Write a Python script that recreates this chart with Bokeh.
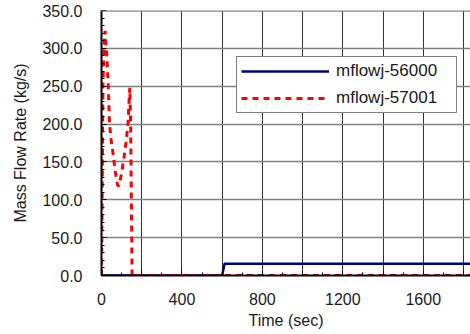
from bokeh.plotting import figure
from bokeh.models import (Range1d, FixedTicker, SingleIntervalTicker, NumeralTickFormatter,
                          Legend, LegendItem, Span)
from bokeh.embed import file_html
from bokeh.resources import INLINE

# ---- data ----
t_56000 = [0, 600, 612, 2000]
v_56000 = [0, 0, 15.5, 15.5]

t_57001 = [0, 3, 7, 12, 18, 22, 28, 33, 37, 40, 47, 58, 67, 79, 86, 100, 112, 122, 132,
           138, 141, 145, 152, 2000]
v_57001 = [0, 100, 250, 300, 323, 305, 282, 255, 225, 200, 181, 160, 140, 120, 118, 135,
           156, 176, 200, 235, 248, 200, 0, 0]

x_ticks = [0, 200, 400, 600, 800, 1000, 1200, 1400, 1600, 1800]
x_labels = ["0", "", "400", "", "800", "", "1200", "", "1600", ""]
series_names = ["mflowj-56000", "mflowj-57001"]

FONT = "Liberation Sans"

p = figure(width=470, height=334, output_backend="svg", toolbar_location=None,
           x_range=Range1d(0, 1835), y_range=Range1d(0, 350),
           min_border_left=101, min_border_right=0, min_border_top=10, min_border_bottom=59)
p.outline_line_color = None
p.background_fill_color = "white"
p.border_fill_color = "white"

# axes
xa = p.xaxis[0]
xa.ticker = FixedTicker(ticks=x_ticks, minor_ticks=list(range(0, 1900, 100)))
xa.major_label_overrides = {t: l for t, l in zip(x_ticks, x_labels)}
xa.axis_label = "Time (sec)"

ya = p.yaxis[0]
ya.ticker = SingleIntervalTicker(interval=50, num_minor_ticks=5)
ya.formatter = NumeralTickFormatter(format="0.0")
ya.axis_label = "Mass Flow Rate (kg/s)"

for ax in (xa, ya):
    ax.axis_line_color = "black"
    ax.axis_line_width = 2
    ax.major_tick_in = 5
    ax.major_tick_out = 0
    ax.minor_tick_in = 3
    ax.minor_tick_out = 0
    ax.major_tick_line_color = "black"
    ax.minor_tick_line_color = "black"
    ax.major_label_text_font = FONT
    ax.major_label_text_font_size = "16px"
    ax.major_label_text_color = "#1a1a1a"
    ax.axis_label_text_font = FONT
    ax.axis_label_text_font_size = "16px"
    ax.axis_label_text_font_style = "normal"
    ax.axis_label_text_color = "#1a1a1a"

xa.major_label_standoff = 17
xa.axis_label_standoff = 4
ya.major_label_standoff = 19
ya.axis_label_standoff = 10

# grids
p.xgrid.grid_line_color = "#333333"
p.xgrid.grid_line_width = 1
p.ygrid.grid_line_color = "#808080"
p.ygrid.grid_line_width = 1.5
p.add_layout(Span(location=350, dimension="width", line_color="#888888", line_width=2.5))

# series
r1 = p.line(t_56000, v_56000, line_color="#000080", line_width=2.5)
r2 = p.line(t_57001, v_57001, line_color="#ff0000", line_width=3, line_dash="6 5")

legend = Legend(items=[LegendItem(label=series_names[0], renderers=[r1]),
                       LegendItem(label=series_names[1], renderers=[r2])],
                location=(135, 162))
legend.border_line_color = "black"
legend.border_line_width = 1
legend.background_fill_color = "white"
legend.background_fill_alpha = 1
legend.label_text_font = FONT
legend.label_text_font_size = "17px"
legend.label_text_color = "#1a1a1a"
legend.padding = 4
legend.spacing = 7
legend.glyph_width = 88
legend.glyph_height = 16
legend.label_height = 16
legend.label_standoff = 7
legend.label_width = 116
legend.margin = 0
p.add_layout(legend, "center")

open("out.html", "w").write(file_html(p, INLINE))
